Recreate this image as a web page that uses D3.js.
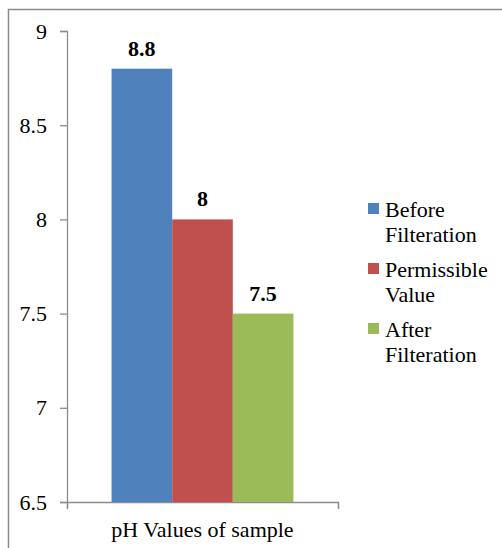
<!DOCTYPE html>
<html>
<head>
<meta charset="utf-8">
<script src="https://cdn.jsdelivr.net/npm/d3@7"></script>
<style>
  html, body { margin: 0; padding: 0; background: #fff; }
  svg { display: block; }
  text { font-family: "Liberation Serif", "Times New Roman", serif; fill: #000; }
</style>
</head>
<body>
<svg id="chart" width="502" height="548"></svg>
<script>
// pH values of the sample
const category = "pH Values of sample";
const seriesNames = ["Before Filteration", "Permissible Value", "After Filteration"];
const legendLines = [["Before", "Filteration"], ["Permissible", "Value"], ["After", "Filteration"]];
const seriesValues = [8.8, 8, 7.5];
const seriesColors = ["#4f81bd", "#c0504d", "#9bbb59"];
const yTicks = [6.5, 7, 7.5, 8, 8.5, 9];

const FONT = '"Liberation Serif", "Times New Roman", serif';
const FS = "22px";
const svg = d3.select("#chart");

// chart frame (runs off the right and bottom edges)
svg.append("rect")
  .attr("x", 8.5).attr("y", 9.5)
  .attr("width", 520).attr("height", 560)
  .attr("fill", "none").attr("stroke", "#8c8c8c").attr("stroke-width", 1.5);

const plot = { left: 67, right: 338, top: 31, bottom: 502 };

const y = d3.scaleLinear().domain([6.5, 9]).range([plot.bottom, plot.top]);
const x0 = d3.scaleBand().domain([category]).range([plot.left, plot.right]).paddingInner(0).paddingOuter(0.245);
const x1 = d3.scaleBand().domain(seriesNames).range([0, x0.bandwidth()]);

// y axis
const yAxis = d3.axisLeft(y).tickValues(yTicks).tickSize(7).tickPadding(13)
  .tickFormat(d => d3.format("")(d));
const gy = svg.append("g").attr("transform", `translate(${plot.left},0)`).call(yAxis);
gy.select(".domain").attr("stroke", "#8c8c8c").attr("stroke-width", 1.3);
gy.selectAll(".tick line").attr("stroke", "#8c8c8c").attr("stroke-width", 1.3);
gy.selectAll(".tick text")
  .style("font-family", FONT).style("font-size", FS).attr("fill", "#000");

// x axis
const xAxisScale = d3.scaleLinear().domain([0, 1]).range([plot.left, plot.right]);
const xAxis = d3.axisBottom(xAxisScale).tickValues([0, 1]).tickSize(7).tickFormat("");
const gx = svg.append("g").attr("transform", `translate(0,${plot.bottom})`).call(xAxis);
gx.select(".domain").attr("stroke", "#8c8c8c").attr("stroke-width", 1.3);
gx.selectAll(".tick line").attr("stroke", "#8c8c8c").attr("stroke-width", 1.3);

svg.append("text")
  .attr("x", x0(category) + x0.bandwidth() / 2).attr("y", 537)
  .attr("text-anchor", "middle").style("font-family", FONT).style("font-size", FS)
  .text(category);

// bars
const g = svg.append("g").attr("transform", `translate(${x0(category)},0)`);
g.selectAll("rect").data(seriesValues).join("rect")
  .attr("x", (d, i) => x1(seriesNames[i]))
  .attr("width", x1.bandwidth())
  .attr("y", d => y(d))
  .attr("height", d => plot.bottom - y(d))
  .attr("fill", (d, i) => seriesColors[i]);

// value labels
g.selectAll("text.val").data(seriesValues).join("text")
  .attr("class", "val")
  .attr("x", (d, i) => x1(seriesNames[i]) + x1.bandwidth() / 2)
  .attr("y", d => y(d) - 13)
  .attr("text-anchor", "middle")
  .style("font-family", FONT).style("font-size", FS).style("font-weight", "bold")
  .text(d => d3.format("")(d));

// legend
const legend = svg.append("g").attr("transform", "translate(368,203)");
const items = legend.selectAll("g").data(seriesNames).join("g")
  .attr("transform", (d, i) => `translate(0,${i * 60})`);
items.append("rect").attr("width", 11).attr("height", 11)
  .attr("fill", (d, i) => seriesColors[i]);
items.each(function(d, i) {
  const t = d3.select(this).append("text").attr("x", 17).attr("y", 14)
    .style("font-family", FONT).style("font-size", FS);
  legendLines[i].forEach((line, j) => {
    t.append("tspan").attr("x", 17).attr("dy", j === 0 ? 0 : 25).text(line);
  });
});
</script>
</body>
</html>
